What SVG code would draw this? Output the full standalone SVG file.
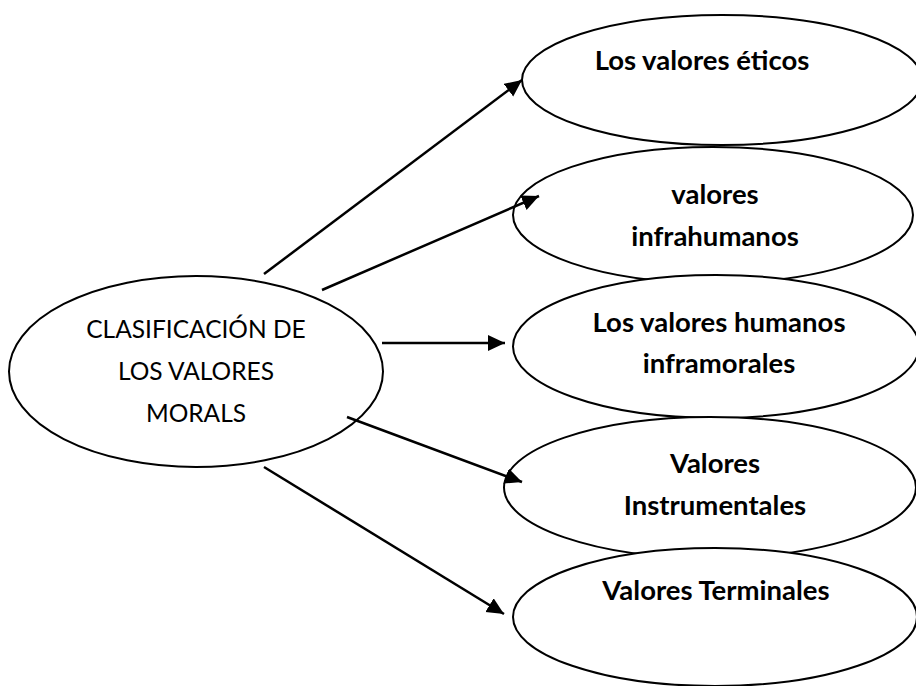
<svg xmlns="http://www.w3.org/2000/svg" width="916" height="686" viewBox="0 0 916 686">
<style>
.node ellipse{fill:#fff;stroke:#000;stroke-width:2}
.lbl{font-family:Lato,"Liberation Sans",sans-serif;font-size:24.5px;fill:#000;text-anchor:middle}
.b{font-weight:bold;font-size:27.5px}
.conn line{stroke:#000;stroke-width:2.5;fill:none}
</style>
<defs>
<marker id="ah" markerUnits="userSpaceOnUse" markerWidth="20" markerHeight="18" refX="17" refY="8" orient="auto">
<path d="M0,0 L17,8 L0,16 z" fill="#000"/>
</marker>
</defs>
<rect width="916" height="686" fill="#fff"/>
<g id="n1" class="node">
<ellipse cx="722" cy="80" rx="200" ry="65"/>
<text class="lbl b" x="702" y="70">Los valores éticos</text>
</g>
<g id="n2" class="node">
<ellipse cx="713" cy="215" rx="200" ry="68"/>
<text class="lbl b" x="715" y="204">valores</text>
<text class="lbl b" x="715" y="246">infrahumanos</text>
</g>
<g id="n3" class="node">
<ellipse cx="716" cy="346.5" rx="203" ry="71.5"/>
<text class="lbl b" x="719" y="332">Los valores humanos</text>
<text class="lbl b" x="719" y="373">inframorales</text>
</g>
<g id="n4" class="node">
<ellipse cx="710" cy="487.5" rx="206" ry="70.5"/>
<text class="lbl b" x="715" y="473">Valores</text>
<text class="lbl b" x="715" y="515">Instrumentales</text>
</g>
<g id="n5" class="node">
<ellipse cx="715" cy="617" rx="202" ry="69"/>
<text class="lbl b" x="716" y="600">Valores Terminales</text>
</g>
<g id="n0" class="node">
<ellipse cx="196" cy="371.5" rx="187" ry="95.5"/>
<text class="lbl" x="196" y="338">CLASIFICACIÓN DE</text>
<text class="lbl" x="196" y="380">LOS VALORES</text>
<text class="lbl" x="196" y="422">MORALS</text>
</g>
<g id="connectors" class="conn">
<line x1="264" y1="274" x2="522" y2="80" marker-end="url(#ah)"/>
<line x1="322" y1="290" x2="539" y2="196" marker-end="url(#ah)"/>
<line x1="382" y1="343" x2="505" y2="343" marker-end="url(#ah)"/>
<line x1="347" y1="417" x2="522" y2="482" marker-end="url(#ah)"/>
<line x1="264" y1="467" x2="504" y2="614" marker-end="url(#ah)"/>
</g>
</svg>
